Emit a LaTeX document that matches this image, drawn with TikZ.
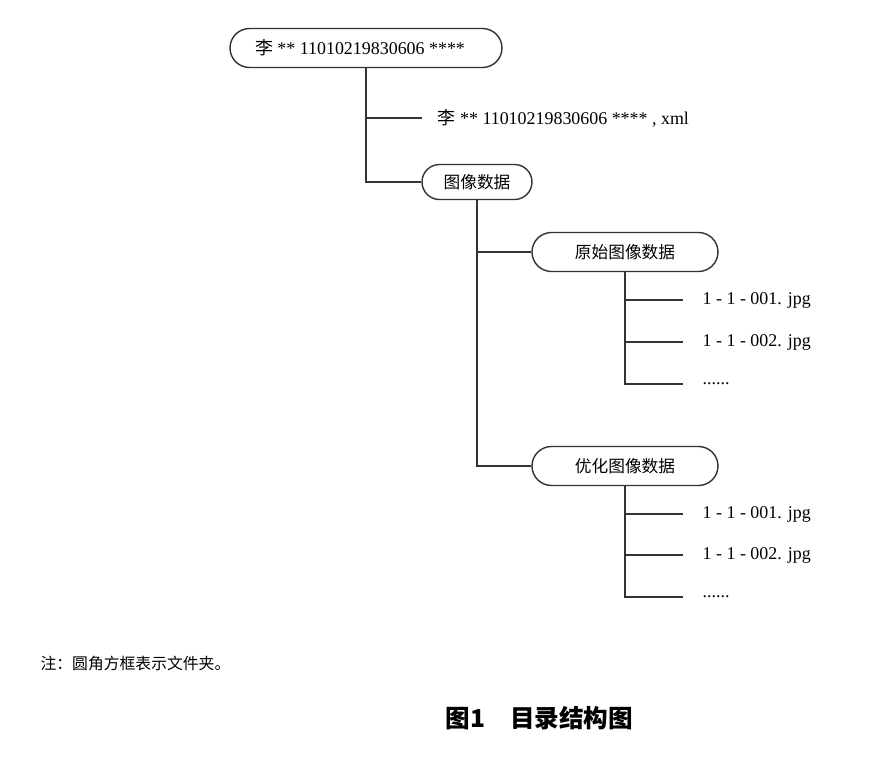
\documentclass[tikz,border=0pt]{standalone}
\usepackage{fontspec}
\setmainfont{Liberation Serif}
\newfontfamily\cjk{Noto Sans CJK SC}
\usetikzlibrary{shapes.misc}

\tikzset{
  folder/.style={draw, rounded rectangle, minimum height=0.78cm, inner sep=0pt, font=\cjk\fontsize{9.5}{11}\selectfont},
  file/.style={inner xsep=0.38cm, inner ysep=1pt, anchor=west},
  branch/.style={draw=black!80, line width=0.8pt}
}

\begin{document}
\begin{tikzpicture}[font=\fontsize{10.2}{12}\selectfont, line width=0.8pt, draw=black!80]
    \useasboundingbox (0,0) rectangle (17.8,15.4);
    % folders
    \node[folder, minimum width=5.44cm, font=\fontsize{10.2}{12}\selectfont] (root) at (7.32,14.44) {\hspace*{-0.24cm}{\cjk 李} ** 11010219830606 ****};
    \node[folder, minimum width=2.2cm, minimum height=0.7cm] (img) at (9.54,11.76) {图像数据};
    \node[folder, minimum width=3.72cm] (orig) at (12.5,10.36) {原始图像数据};
    \node[folder, minimum width=3.72cm] (opt) at (12.5,6.08) {优化图像数据};
    % files
    \node[file, inner xsep=0.3cm] (xml) at (8.44,13.04) {{\cjk 李} ** 11010219830606 **** , xml};
    \node[file] (fa1) at (13.66,9.40) {1 - 1 - 001. jpg};
    \node[file] (fa2) at (13.66,8.56) {1 - 1 - 002. jpg};
    \node[file] (fa3) at (13.66,7.72) {......};
    \node[file] (fb1) at (13.66,5.12) {1 - 1 - 001. jpg};
    \node[file] (fb2) at (13.66,4.30) {1 - 1 - 002. jpg};
    \node[file] (fb3) at (13.66,3.46) {......};
    % tree lines
    \draw[branch] (root.south) |- (xml.west);
    \draw[branch] (root.south) |- (img.west);
    \draw[branch] (img.south) |- (orig.west);
    \draw[branch] (img.south) |- (opt.west);
    \foreach \f in {fa1,fa2,fa3} \draw[branch] (orig.south) |- (\f.west);
    \foreach \f in {fb1,fb2,fb3} \draw[branch] (opt.south) |- (\f.west);
    % note and caption
    \node[anchor=west, font=\cjk\fontsize{9}{11}\selectfont] (note) at (0.68,2.14) {注：圆角方框表示文件夹。};
    \node[font=\cjk\bfseries\fontsize{14}{16}\selectfont] (cap) at (10.79,1.04) {图1\quad 目录结构图};
\end{tikzpicture}
\end{document}
